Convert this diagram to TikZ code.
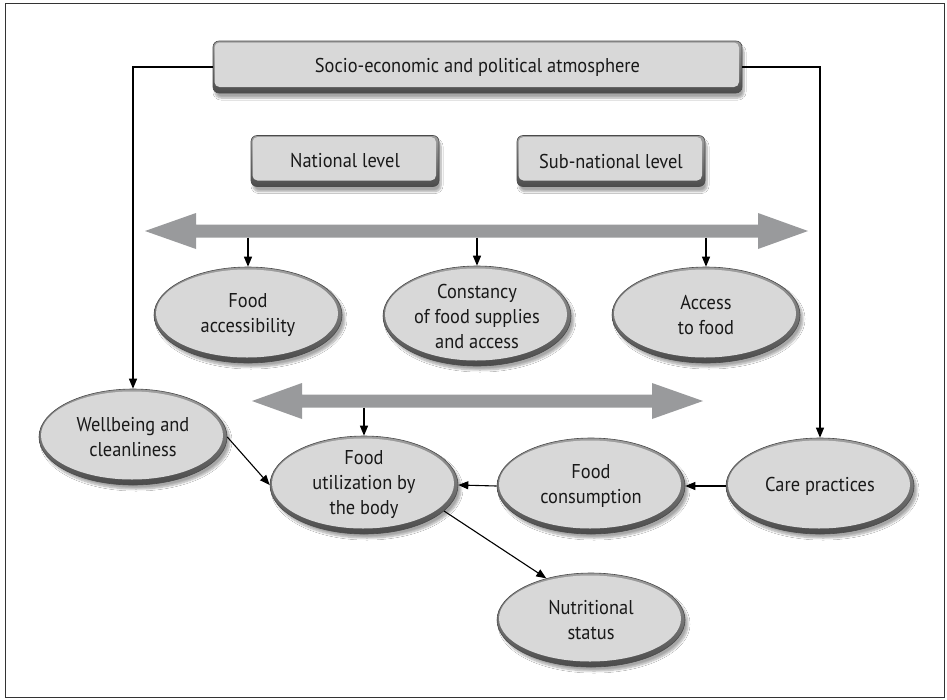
\documentclass[tikz,border=0pt]{standalone}
\usepackage{fontspec}
\setmainfont[FakeStretch=0.92]{PT Sans}
\usetikzlibrary{arrows.meta,calc,shapes.geometric,shadows.blur}

\definecolor{face}{RGB}{216,216,216}
\definecolor{rimlight}{RGB}{160,160,160}
\definecolor{rimdark}{RGB}{75,75,75}
\definecolor{bigarrow}{RGB}{153,154,156}
\definecolor{txt}{RGB}{25,25,25}

\newcommand\lbl{\fontsize{20}{25}\selectfont\color{txt}}

\tikzset{
  conn/.style={line width=1.1pt, draw=black, -{Triangle[length=10pt,width=8pt]}},
  oval/.style={ellipse, draw=rimdark, line width=0.6pt, inner sep=0pt,
    top color=rimlight, bottom color=rimdark, align=center, font=\lbl,
    blur shadow={shadow xshift=3pt, shadow yshift=-4pt, shadow blur steps=8, shadow opacity=35}},
  bevelbox/.style={rectangle, rounded corners=6pt, draw=rimdark, line width=0.6pt, inner sep=0pt,
    top color=rimlight, bottom color=rimdark, align=center, font=\lbl,
    blur shadow={shadow xshift=2pt, shadow yshift=-5pt, shadow blur steps=8, shadow opacity=35}},
}

\newcommand\ovalnode[6]{%
  \pgfmathsetmacro\fx{#4-3}\pgfmathsetmacro\fy{#5-4}%
  \node[oval, minimum width=#4*2pt, minimum height=#5*2pt,
    path picture={\fill[face] ([xshift=-1pt,yshift=1.5pt]path picture bounding box.center)
      ellipse [x radius=\fx pt, y radius=\fy pt];}] (#1) at (#2,#3) {#6};
}
\newcommand\boxnode[6]{%
  \node[bevelbox, minimum width=#4*1pt, minimum height=#5*1pt,
    path picture={\fill[face, rounded corners=5pt]
      ([xshift=1.5pt,yshift=6pt]path picture bounding box.south west) rectangle
      ([xshift=-3pt,yshift=-1.5pt]path picture bounding box.north east);}] (#1) at (#2,#3) {#6};
}

\begin{document}
\begin{tikzpicture}[x=1pt,y=-1pt]
\useasboundingbox (0,0) rectangle (947,699);
\fill[white] (0,0) rectangle (947,699);
\draw[line width=1pt, black!80] (5,3) rectangle (944,697);

% big double arrows
\fill[bigarrow] (145,231) -- (196,213) -- (196,224.5) -- (758,224.5) -- (758,213) -- (808,231)
  -- (758,249) -- (758,237.5) -- (196,237.5) -- (196,249) -- cycle;
\fill[bigarrow] (252,401) -- (302,383) -- (302,394.5) -- (652,394.5) -- (652,383) -- (703,401)
  -- (652,419) -- (652,407.5) -- (302,407.5) -- (302,419) -- cycle;
\coordinate (s1) at (248,237.5);
\coordinate (s2) at (477,237.5);
\coordinate (s3) at (706,237.5);
\coordinate (s4) at (364,407.5);

% boxes
\boxnode{top}{477.5}{67}{529}{52}{Socio-economic and political atmosphere}
\boxnode{nat}{345}{161}{188}{51}{National level}
\boxnode{sub}{611}{161}{188}{51}{Sub-national level}

% ovals
\ovalnode{acc}{248}{315}{94}{48}{Food\\accessibility}
\ovalnode{const}{477}{316}{94}{50}{Constancy\\of food supplies\\and access}
\ovalnode{accf}{706}{315}{94}{48}{Access\\to food}
\ovalnode{well}{133}{437}{94}{48}{Wellbeing and\\cleanliness}
\ovalnode{util}{364}{485}{94}{49}{Food\\utilization by\\the body}
\ovalnode{cons}{591}{486}{94}{48}{Food\\consumption}
\ovalnode{care}{820}{486}{94}{48}{Care practices}
\ovalnode{nutr}{591}{620}{94}{47}{Nutritional\\status}

% connectors
\draw[conn] (top.west) -| (well.north);
\draw[conn] (top.east) -| (care.north);
\draw[conn] (s1) -- (acc.north);
\draw[conn] (s2) -- (const.north);
\draw[conn] (s3) -- (accf.north);
\draw[conn] (s4) -- (util.north);
\draw[conn] (well.east) -- (util.west);
\draw[conn] (care.west) -- (cons.east);
\draw[conn] (cons.west) -- (util.east);
\draw[conn] (util.-18) -- (nutr.137);
\end{tikzpicture}
\end{document}
